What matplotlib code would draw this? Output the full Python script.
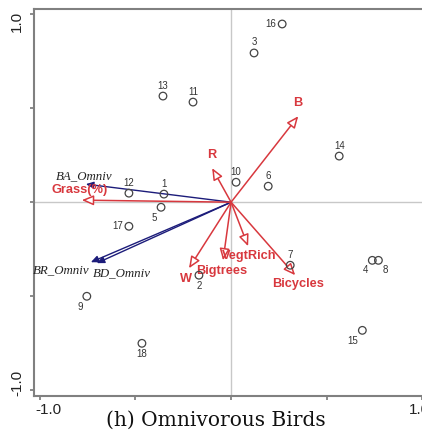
import matplotlib
matplotlib.use("Agg")
import matplotlib.pyplot as plt

# site scores
site_ids = ["1", "2", "3", "4", "5", "6", "7", "8", "9", "10",
            "11", "12", "13", "14", "15", "16", "17", "18"]
site_x = [-0.351, -0.168, 0.120, 0.738, -0.366, 0.194, 0.309, 0.770, -0.754, 0.026,
          -0.199, -0.534, -0.356, 0.565, 0.686, 0.267, -0.534, -0.466]
site_y = [0.043, -0.388, 0.793, -0.309, -0.027, 0.085, -0.335, -0.309, -0.500, 0.106,
          0.532, 0.048, 0.564, 0.245, -0.681, 0.947, -0.128, -0.750]

# environmental variables (red arrows)
env_names = ["B", "R", "Grass(%)", "W", "Bigtrees", "VegtRich", "Bicycles"]
env_x = [0.351, -0.099, -0.780, -0.220, -0.042, 0.089, 0.335]
env_y = [0.457, 0.181, 0.011, -0.351, -0.309, -0.234, -0.388]

# species (blue arrows)
sp_names = ["BA_Omniv", "BR_Omniv", "BD_Omniv"]
sp_x = [-0.759, -0.733, -0.702]
sp_y = [0.096, -0.319, -0.324]

# axis tick values and the ones that get a label
tick_vals = [-1.0, -0.5, 0.0, 0.5, 1.0]
tick_labels = {-1.0: "-1.0", 1.0: "1.0"}

# label offsets in points (dx, dy, ha, va)
site_lab = {
    "1": (0, 4, "center", "bottom"), "2": (0, -4, "center", "top"),
    "3": (0, 4, "center", "bottom"), "4": (-3, -3, "right", "top"),
    "5": (-3, -4, "right", "top"), "6": (0, 4, "center", "bottom"),
    "7": (0, 4, "center", "bottom"), "8": (3, -3, "left", "top"),
    "9": (-3, -4, "right", "top"), "10": (0, 4, "center", "bottom"),
    "11": (0, 4, "center", "bottom"), "12": (0, 4, "center", "bottom"),
    "13": (0, 4, "center", "bottom"), "14": (0, 4, "center", "bottom"),
    "15": (-3, -4, "right", "top"), "16": (-4, 0, "right", "center"),
    "17": (-4, 0, "right", "center"), "18": (0, -4, "center", "top"),
}
env_lab = {
    "B": (0, 5, "center", "bottom"), "R": (0, 5, "center", "bottom"),
    "Grass(%)": (-1.5, 7, "center", "center"), "W": (-2, -8, "center", "center"),
    "Bigtrees": (-1, -8, "center", "center"), "VegtRich": (1, -7, "center", "center"),
    "Bicycles": (2, -6, "center", "center"),
}
sp_lab = {
    "BA_Omniv": (-1.5, 5.5, "center", "center"), "BR_Omniv": (-21.5, -5.8, "center", "center"),
    "BD_Omniv": (18, -7.2, "center", "center"),
}

red = "#d8383e"
navy = "#1c1c7a"
gray_txt = "#333333"

fig = plt.figure(figsize=(4.22, 4.32), dpi=100)
ax = fig.add_axes([0.0806, 0.0833, 0.934, 0.896])
ax.set_xlim(-1.03, 1.03)
ax.set_ylim(-1.03, 1.027)

ax.axhline(0, color="#c8c8c8", lw=1, zorder=1)
ax.axvline(0, color="#c8c8c8", lw=1, zorder=1)

for name, x, y in zip(sp_names, sp_x, sp_y):
    ax.annotate("", xy=(x, y), xytext=(0, 0),
                arrowprops=dict(arrowstyle="-|>,head_length=0.45,head_width=0.2",
                                color=navy, lw=1.0, shrinkA=0, shrinkB=0), zorder=3)
    dx, dy, ha, va = sp_lab[name]
    ax.annotate(name, (x, y), xytext=(dx, dy), textcoords="offset points",
                ha=ha, va=va, fontsize=9.3, style="italic",
                family="Liberation Serif", color="#222222")

for name, x, y in zip(env_names, env_x, env_y):
    ax.annotate("", xy=(x, y), xytext=(0, 0),
                arrowprops=dict(arrowstyle="-|>,head_length=0.7,head_width=0.3",
                                ec=red, fc="white", lw=1.1, shrinkA=0, shrinkB=0),
                zorder=4)
    dx, dy, ha, va = env_lab[name]
    ax.annotate(name, (x, y), xytext=(dx, dy), textcoords="offset points",
                ha=ha, va=va, fontsize=9.2, fontweight="bold",
                family="Liberation Sans", color=red, zorder=5)

ax.scatter(site_x, site_y, s=30, facecolors="none", edgecolors="#444444",
           linewidths=0.9, zorder=6)
for name, x, y in zip(site_ids, site_x, site_y):
    dx, dy, ha, va = site_lab[name]
    ax.annotate(name, (x, y), xytext=(dx, dy), textcoords="offset points",
                ha=ha, va=va, fontsize=7, family="Liberation Sans",
                color=gray_txt)

# ticks without default labels; the two end labels are placed by hand
ax.set_xticks(tick_vals)
ax.set_yticks(tick_vals)
ax.set_xticklabels([])
ax.set_yticklabels([])
ax.tick_params(direction="out", length=3, width=1.2, color="#777777")
x0, y0 = ax.get_xlim()[0], ax.get_ylim()[0]
for v, txt in tick_labels.items():
    ax.annotate(txt, (v, y0), xytext=(-4.5 * v + 2, -10), textcoords="offset points",
                ha="center", va="center", fontsize=11, family="Liberation Sans",
                color="#222222", annotation_clip=False)
    ax.annotate(txt, (x0, v), xytext=(-12, -5 * v), textcoords="offset points",
                ha="center", va="center", rotation=90, fontsize=11,
                family="Liberation Sans", color="#222222", annotation_clip=False)
for s in ax.spines.values():
    s.set_color("#808080")
    s.set_linewidth(1.5)

fig.text(0.512, 0.026, "(h) Omnivorous Birds", ha="center", va="center",
         fontsize=14.5, family="DejaVu Serif", color="#111111")

fig.savefig("out.png", dpi=100)
